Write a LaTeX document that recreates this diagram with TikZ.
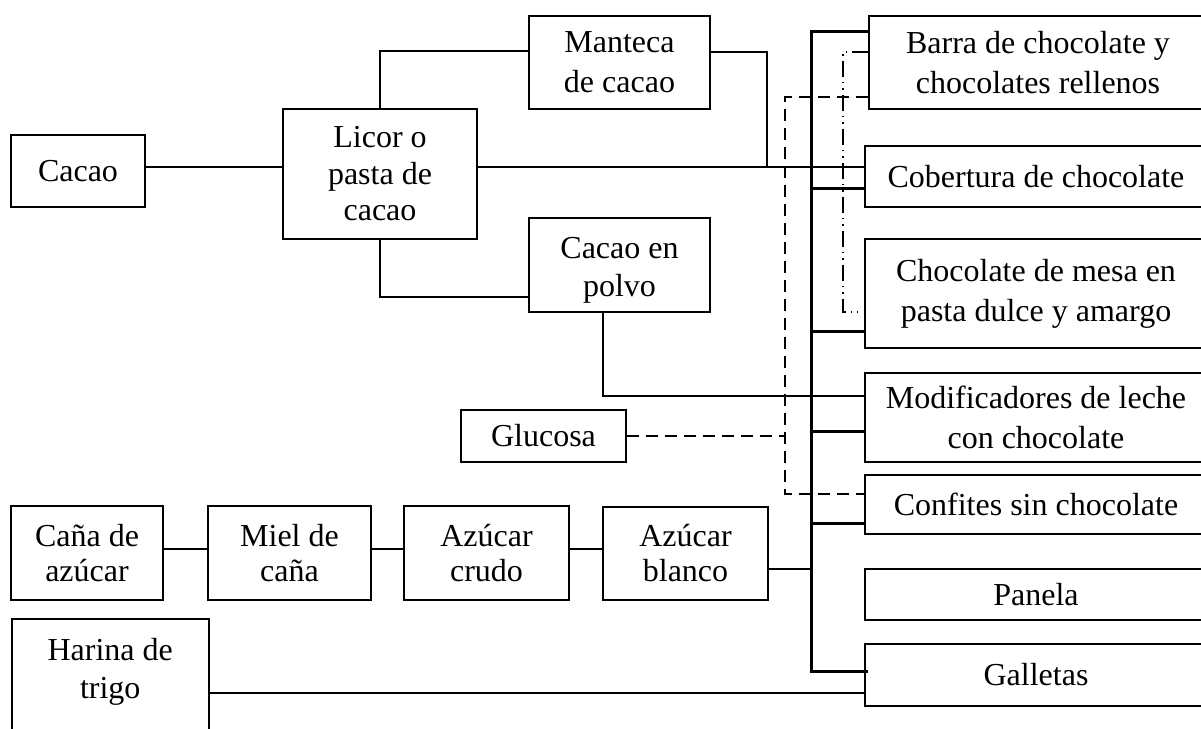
\documentclass[tikz,border=0pt]{standalone}
\usepackage{fontspec}
\setmainfont{Liberation Serif}
\begin{document}
\begin{tikzpicture}[x=1bp,y=-1bp,
 box/.style={draw, line width=1.5bp, inner sep=0pt, align=center, font=\fontsize{32bp}{40bp}\selectfont},
 txt/.style={inner sep=0pt, align=center, font=\fontsize{32bp}{40bp}\selectfont},
 chain/.style={font=\fontsize{32bp}{35bp}\selectfont},
 conn/.style={line width=1.5bp},
 busln/.style={line width=3bp},
 dashln/.style={line width=1.5bp, dash pattern=on 12bp off 7bp},
 dddln/.style={line width=1.2bp, dash pattern=on 16bp off 5bp on 1.5bp off 5bp on 1.5bp off 5bp}]
\fill[white] (0,0) rectangle (1201,729);
\useasboundingbox (0,0) rectangle (1201,729);

% left / middle boxes
\node[box, minimum width=134bp, minimum height=72bp] (cacao) at (78,171) {Cacao};
\node[box, minimum width=194bp, minimum height=130bp, font=\fontsize{32bp}{36.5bp}\selectfont] (licor) at (380,174) {Licor o\\pasta de\\cacao};
\node[box, minimum width=181bp, minimum height=93bp] (manteca) at (619.5,62.5) {Manteca\\de cacao};
\node[box, minimum width=181bp, minimum height=94bp] (polvo) at (619.5,265) {};
\node[txt, font=\fontsize{32bp}{38bp}\selectfont] (polvotxt) at ([yshift=-5.5bp]polvo.center) {Cacao en\\polvo};
\node[box, minimum width=165bp, minimum height=52bp] (glucosa) at (543.5,436) {Glucosa};
\node[box, chain, minimum width=152bp, minimum height=94bp] (cana) at (87,553) {Caña de\\azúcar};
\node[box, chain, minimum width=163bp, minimum height=94bp] (miel) at (289.5,553) {Miel de\\caña};
\node[box, chain, minimum width=165bp, minimum height=94bp] (crudo) at (486.5,553) {Azúcar\\crudo};
\node[box, chain, minimum width=165bp, minimum height=93bp] (blanco) at (685.5,553.5) {Azúcar\\blanco};
\node[box, minimum width=197bp, minimum height=150bp, anchor=north west] (harina) at (11,618) {};
\node[txt, font=\fontsize{32bp}{38bp}\selectfont] (harinatxt) at ([yshift=-54bp]harina.north) {Harina de\\trigo};

% right boxes (cut by the page edge)
\node[box, minimum width=338bp, minimum height=93bp] (barra) at (1038,62.5) {Barra de chocolate y\\chocolates rellenos};
\node[box, minimum width=342bp, minimum height=61bp] (cob) at (1036,176.5) {Cobertura de chocolate};
\node[box, minimum width=342bp, minimum height=109bp] (mesa) at (1036,293.5) {Chocolate de mesa en\\pasta dulce y amargo};
\node[box, minimum width=342bp, minimum height=89bp] (modif) at (1036,417.5) {Modificadores de leche\\con chocolate};
\node[box, minimum width=342bp, minimum height=59bp] (conf) at (1036,504.5) {Confites sin chocolate};
\node[box, minimum width=342bp, minimum height=51bp] (panela) at (1036,594.5) {Panela};
\node[box, minimum width=342bp, minimum height=62bp] (gall) at (1036,675) {Galletas};

% coordinates
\coordinate (mj) at (767,167);
\coordinate (bt) at (811,32);
\coordinate (bb) at (811,671);
\coordinate (bz) at (811,569);
\coordinate (gj) at (785,436);

% thin connectors
\draw[conn] (cacao.east |- 0,167) -- (licor.west |- 0,167);
\draw[conn] (licor.east |- 0,167) -- (cob.west |- 0,167);
\draw[conn] (licor.north) |- (manteca.west |- 0,51);
\draw[conn] (licor.south) |- (polvo.west |- 0,297);
\draw[conn] (manteca.east |- 0,52) -| (mj);
\draw[conn] ([xshift=-16.5bp]polvo.south) |- (modif.west |- 0,396);
\draw[conn] (cana.east |- 0,549) -- (miel.west |- 0,549);
\draw[conn] (miel.east |- 0,549) -- (crudo.west |- 0,549);
\draw[conn] (crudo.east |- 0,549) -- (blanco.west |- 0,549);
\draw[conn] (blanco.east |- bz) -- (bz);
\draw[conn] (harina.east |- 0,693) -- (gall.west |- 0,693);

% bus
\draw[busln] (barra.west |- bt) -- (bt) -- (bb) -- ([xshift=4bp]gall.west |- bb);
\draw[busln] (bt |- 0,189) -- (cob.west |- 0,189);
\draw[busln] (bt |- 0,331) -- (mesa.west |- 0,331);
\draw[busln] (bt |- 0,431) -- (modif.west |- 0,431);
\draw[busln] (bt |- 0,523) -- (conf.west |- 0,523);

% dashed
\draw[dashln] (barra.west |- 0,97) -- (785,97) -- (785,494) -- (conf.west |- 0,494);
\draw[dashln] (glucosa.east) -- (gj);

% dash-dot-dot
\draw[dddln] (barra.west |- 0,52) -- (843,52) -- (843,312) -- (858,312);
\end{tikzpicture}
\end{document}
